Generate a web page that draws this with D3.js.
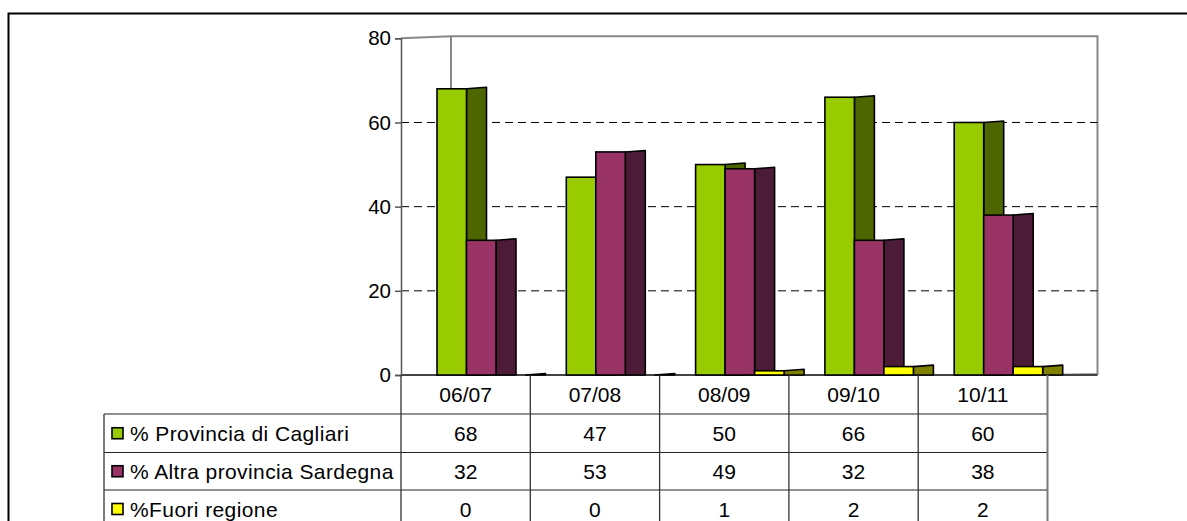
<!DOCTYPE html>
<html>
<head>
<meta charset="utf-8">
<script src="https://cdn.jsdelivr.net/npm/d3@7"></script>
<style>
  body { margin: 0; background: #fff; }
  svg { display: block; }
  text { font-family: "Liberation Sans", Arial, sans-serif; fill: #000; }
</style>
</head>
<body>
<svg id="chart" width="1187" height="521"></svg>
<script>
// ---- data ----
const years = ["06/07", "07/08", "08/09", "09/10", "10/11"];
const seriesNames = ["% Provincia di Cagliari", "% Altra provincia Sardegna", "%Fuori regione"];
const cagliari = [68, 47, 50, 66, 60];
const altraProvincia = [32, 53, 49, 32, 38];
const fuoriRegione = [0, 0, 1, 2, 2];
const yTicks = [0, 20, 40, 60, 80];

const seriesValues = [cagliari, altraProvincia, fuoriRegione];
const frontColors = ["#99cc00", "#993366", "#ffff00"];
const sideColors = ["#4d6600", "#4c1b37", "#808000"];

// ---- layout ----
const svg = d3.select("#chart");
const plotLeft = 401, plotRight = 1047.5, plotTop = 38.3, plotBottom = 375;
const wallDx = 50, wallDy = -2;      // depth of the 3D box
const sideDx = 20, sideDy = -1.5;    // depth of each column
const fontSize = 21;

const x = d3.scaleBand().domain(years).range([plotLeft, plotRight]);
const xs = d3.scaleBand().domain(seriesNames).range([36, 124.5]);
const y = d3.scaleLinear().domain([0, 80]).range([plotBottom, plotTop]);

// outer frame
svg.append("path")
  .attr("d", `M8.5,521 V13.5 H1187`)
  .attr("fill", "none").attr("stroke", "#000").attr("stroke-width", 2);

// 3D walls
const wallTop = y(80) + wallDy;
svg.append("path")
  .attr("d", `M${plotLeft},${y(80)} L${plotLeft + wallDx},${wallTop} H${plotRight + wallDx} V${plotBottom - 1} L${plotRight},${plotBottom}`)
  .attr("fill", "none").attr("stroke", "#888").attr("stroke-width", 2);
svg.append("line")
  .attr("x1", plotLeft + wallDx).attr("x2", plotLeft + wallDx)
  .attr("y1", wallTop).attr("y2", plotBottom + wallDy)
  .attr("stroke", "#888").attr("stroke-width", 2);

// dashed gridlines
svg.append("g").selectAll("line")
  .data(yTicks.filter(t => t > 0 && t < 80))
  .join("line")
  .attr("x1", plotLeft).attr("x2", plotRight + wallDx)
  .attr("y1", d => y(d)).attr("y2", d => y(d))
  .attr("stroke", "#000").attr("stroke-width", 1)
  .attr("stroke-dasharray", "8,5");

// floor line
svg.append("line")
  .attr("x1", plotLeft).attr("x2", plotRight + wallDx)
  .attr("y1", plotBottom).attr("y2", plotBottom)
  .attr("stroke", "#444").attr("stroke-width", 2);

// columns: front face + right side face
const bars = [];
years.forEach((yr, ci) => {
  seriesNames.forEach((s, si) => {
    bars.push({ yr, s, si, v: seriesValues[si][ci] });
  });
});

const gBars = svg.append("g");
bars.forEach(b => {
  const x0 = x(b.yr) + xs(b.s);
  const w = xs.bandwidth();
  const yt = y(b.v), yb = y(0);
  const g = gBars.append("g");
  g.append("path")
    .attr("d", `M${x0 + w},${yt} L${x0 + w + sideDx},${yt + sideDy} L${x0 + w + sideDx},${yb} L${x0 + w},${yb} Z`)
    .attr("fill", sideColors[b.si]).attr("stroke", "#000").attr("stroke-width", 1.6)
    .attr("stroke-linejoin", "round");
  g.append("rect")
    .attr("x", x0).attr("y", yt).attr("width", w).attr("height", yb - yt)
    .attr("fill", frontColors[b.si]).attr("stroke", "#000").attr("stroke-width", 1.6);
});

// y axis
const yAxis = d3.axisLeft(y).tickValues(yTicks).tickSize(6).tickPadding(4).tickFormat(d3.format("d"));
const gy = svg.append("g").attr("transform", `translate(${plotLeft},0)`).call(yAxis);
gy.select(".domain").attr("stroke", "#555").attr("stroke-width", 1.5);
gy.selectAll(".tick line").attr("stroke", "#555").attr("stroke-width", 1.5);
gy.selectAll(".tick text").attr("font-size", 20.5).attr("font-family", "Liberation Sans, Arial, sans-serif").attr("fill", "#000");

// ---- data table ----
const tableLeft = 104;
const rowLines = [414, 452.5, 490];
const rowBottom = 528;
const gT = svg.append("g");

// horizontal row lines
gT.selectAll("line.h").data(rowLines).join("line")
  .attr("x1", tableLeft).attr("x2", plotRight)
  .attr("y1", d => d).attr("y2", d => d)
  .attr("stroke", "#222").attr("stroke-width", 1.2);

// column separators
const colEdges = years.map(d => x(d)).concat([plotRight]);
gT.selectAll("line.v").data(colEdges).join("line")
  .attr("x1", d => d).attr("x2", d => d)
  .attr("y1", plotBottom).attr("y2", rowBottom)
  .attr("stroke", (d, i) => i === colEdges.length - 1 ? "#777" : "#333")
  .attr("stroke-width", (d, i) => i === colEdges.length - 1 ? 2 : 1.3);
gT.append("line")
  .attr("x1", tableLeft).attr("x2", tableLeft)
  .attr("y1", rowLines[0]).attr("y2", rowBottom)
  .attr("stroke", "#333").attr("stroke-width", 1.3);

// header row: category labels
gT.selectAll("text.cat").data(years).join("text")
  .attr("x", d => x(d) + x.bandwidth() / 2)
  .attr("y", (plotBottom + rowLines[0]) / 2 + 7.5)
  .attr("text-anchor", "middle").attr("font-size", fontSize)
  .text(d => d);

// series rows
const rowCenters = [(rowLines[0] + rowLines[1]) / 2, (rowLines[1] + rowLines[2]) / 2, (rowLines[2] + rowBottom) / 2];
seriesNames.forEach((s, si) => {
  const cy = rowCenters[si];
  gT.append("rect")
    .attr("x", 112).attr("y", cy - 5.5).attr("width", 11).attr("height", 11)
    .attr("fill", frontColors[si]).attr("stroke", "#000").attr("stroke-width", 1.6);
  gT.append("text")
    .attr("x", 130).attr("y", cy + 7.5)
    .attr("font-size", fontSize)
    .attr("letter-spacing", 0.4)
    .text(s);
  gT.selectAll(null).data(seriesValues[si]).join("text")
    .attr("x", (d, i) => x(years[i]) + x.bandwidth() / 2)
    .attr("y", cy + 7.5)
    .attr("text-anchor", "middle").attr("font-size", fontSize)
    .text(d => d);
});
</script>
</body>
</html>
